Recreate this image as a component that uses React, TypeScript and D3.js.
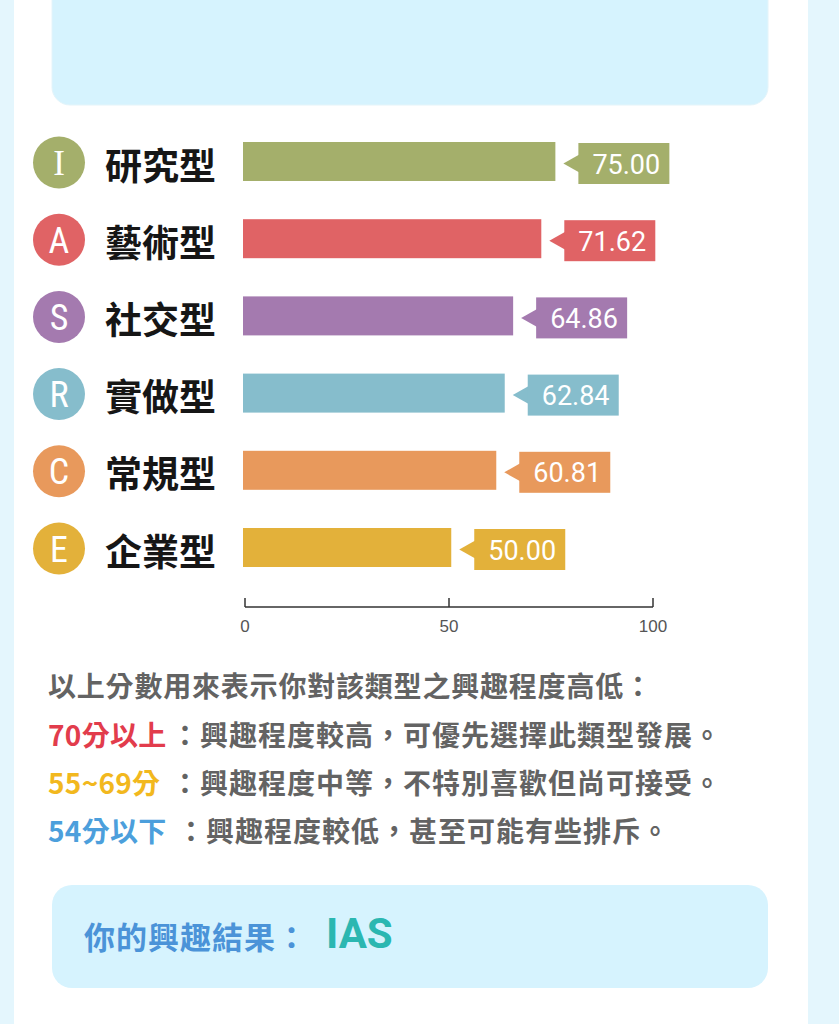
import React from 'react';
import * as d3 from 'd3';

const categories = ['研究型', '藝術型', '社交型', '實做型', '常規型', '企業型'];
const letters = ['I', 'A', 'S', 'R', 'C', 'E'];
const values = [75.0, 71.62, 64.86, 62.84, 60.81, 50.0];
const colors = ['#a4af6b', '#e06365', '#a47aaf', '#86bdcc', '#e8995c', '#e3b13a'];
const axisTicks = [0, 50, 100];

const introText = '以上分數用來表示你對該類型之興趣程度高低：';
const legendKeys = ['70分以上', '55~69分', '54分以下'];
const legendDescs = ['：興趣程度較高，可優先選擇此類型發展。', '：興趣程度中等，不特別喜歡但尚可接受。', '：興趣程度較低，甚至可能有些排斥。'];
const legendColors = ['#e23c4c', '#f2b81e', '#4c9fdc'];
const resultLabel = '你的興趣結果：';
const resultCode = 'IAS';

const W = 839;
const H = 1024;

export default function App() {
  const xBar = d3.scaleLinear().domain([0, 100]).range([243, 659.5]);
  const xAxis = d3.scaleLinear().domain([0, 100]).range([245, 653]);
  const y = d3.scalePoint<string>().domain(categories).range([161.5, 547.5]);
  const barH = 39;
  const axisY = 607;
  const cjk = '"Noto Sans CJK TC", "Noto Sans CJK SC", sans-serif';
  const legendY = [734, 782, 830];
  const legendDescX = [171, 171, 177];

  return (
    <svg width={W} height={H} style={{ position: 'absolute', left: 0, top: 0 }} xmlns="http://www.w3.org/2000/svg">
      <rect x={0} y={0} width={W} height={H} fill="#e4f6fd" />
      <rect x={14} y={0} width={794} height={H} fill="#ffffff" />
      {/* top info box */}
      <rect x={52} y={-30} width={716} height={135} rx={18} fill="#d6f3fe" stroke="#e4f4fa" strokeWidth={1} />

      {categories.map((c, i) => {
        const cy = y(c)!;
        const x0 = xBar(0);
        const x1 = xBar(values[i]);
        const boxX = x1 + 23;
        const boxTop = cy - 18.5;
        const boxH = 41;
        const bcy = boxTop + boxH / 2;
        return (
          <g key={c}>
            <circle cx={59} cy={cy + 1} r={26} fill={colors[i]} />
            <text x={59} y={cy + 2} textAnchor="middle" dominantBaseline="central" fill="#ffffff"
              fontFamily={i === 0 ? '"Liberation Serif", serif' : '"Liberation Sans Narrow", "Roboto Condensed", "Liberation Sans", sans-serif'}
              fontSize={i === 0 ? 35 : 36}>{letters[i]}</text>
            <text x={105} y={cy + 2} dominantBaseline="central" fill="#161616" fontFamily={cjk} fontWeight={700} fontSize={37}>{c}</text>
            <rect x={x0} y={cy - barH / 2} width={x1 - x0} height={barH} fill={colors[i]} />
            <path d={`M${x1 + 8},${bcy} L${boxX + 1},${bcy - 9} L${boxX + 1},${bcy + 9} Z`} fill={colors[i]} />
            <rect x={boxX} y={boxTop} width={91} height={boxH} fill={colors[i]} />
            <text x={boxX + 14} y={bcy + 1} dominantBaseline="central" fill="#ffffff" fontFamily="Roboto, sans-serif" fontSize={27}>{values[i].toFixed(2)}</text>
          </g>
        );
      })}

      {/* axis */}
      <line x1={xAxis(0)} x2={xAxis(100)} y1={axisY} y2={axisY} stroke="#333" strokeWidth={1.5} />
      {axisTicks.map((t) => (
        <g key={t}>
          <line x1={xAxis(t)} x2={xAxis(t)} y1={axisY} y2={axisY - 9} stroke="#333" strokeWidth={1.5} />
          <text x={xAxis(t)} y={626} textAnchor="middle" dominantBaseline="central" fill="#555" fontFamily='"Liberation Sans", Arial, sans-serif' fontSize={17}>{t}</text>
        </g>
      ))}

      {/* explanation text */}
      <text x={48} y={685} dominantBaseline="central" fill="#636363" fontFamily={cjk} fontWeight={700} fontSize={28} letterSpacing={0.8}>{introText}</text>
      {legendKeys.map((k, i) => (
        <g key={k}>
          <text x={48} y={legendY[i]} dominantBaseline="central" fill={legendColors[i]} fontFamily={cjk} fontWeight={700} fontSize={28} letterSpacing={0.3}>{k}</text>
          <text x={legendDescX[i]} y={legendY[i]} dominantBaseline="central" fill="#636363" fontFamily={cjk} fontWeight={700} fontSize={28} letterSpacing={1}>{legendDescs[i]}</text>
        </g>
      ))}

      {/* result box */}
      <rect x={52} y={885} width={716} height={103} rx={20} fill="#d6f3fe" />
      <text x={84} y={935} dominantBaseline="central" fill="#4b93d8" fontFamily={cjk} fontWeight={700} fontSize={31} letterSpacing={1}>{resultLabel}</text>
      <text x={326} y={933} dominantBaseline="central" fill="#2bb7b1" fontFamily='Roboto, "Noto Sans", sans-serif' fontWeight={700} fontSize={42}>{resultCode}</text>
    </svg>
  );
}
